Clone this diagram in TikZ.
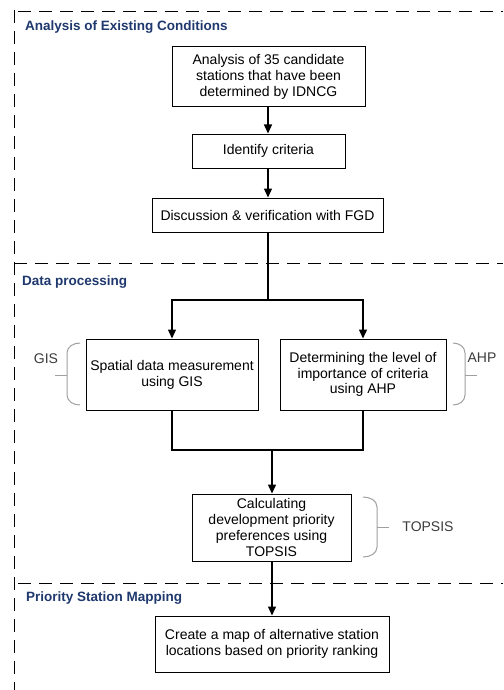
\documentclass[tikz,border=0pt]{standalone}
\usepackage{fontspec}
\setmainfont{Liberation Sans}
\usetikzlibrary{arrows.meta}
\definecolor{titleblue}{RGB}{31,56,110}
\definecolor{bracegray}{RGB}{160,160,160}
\definecolor{labelgray}{RGB}{60,60,60}
\begin{document}
\begin{tikzpicture}[x=1pt,y=-1pt,
  box/.style={draw=black,line width=1pt,align=center,inner sep=2pt,
    font=\fontsize{14}{15.8}\selectfont},
  conn/.style={line width=1.4pt},
  arr/.style={line width=1.4pt,-{Triangle[length=9pt,width=8pt]}},
  sect/.style={line width=1pt,dash pattern=on 13pt off 8pt},
  title/.style={anchor=west,text=titleblue,font=\fontsize{13.5}{15}\selectfont\bfseries,inner sep=0pt},
  brc/.style={draw=bracegray,line width=1pt},
  blabel/.style={text=labelgray,font=\fontsize{14}{16}\selectfont,inner sep=0pt}]
\useasboundingbox (0,0) rectangle (503,690);
\fill[white] (0,0) rectangle (503,690);
% section frames
\draw[sect] (18,12) -- (503,12);
\draw[sect] (14,10) -- (14,690);
\draw[sect] (14,263) -- (503,263);
\draw[sect] (18,583) -- (503,583);
% titles
\node[title] (t1) at (25,27) {Analysis of Existing Conditions};
\node[title] (t2) at (22,282) {Data processing};
\node[title] (t3) at (26,598) {Priority Station Mapping};
% boxes
\node[box,minimum width=193pt,minimum height=60pt] (b1) at (268.5,77)
  {Analysis of 35 candidate\\stations that have been\\determined by IDNCG};
\node[box,minimum width=153pt,minimum height=34pt] (b2) at (268.5,151) {Identify criteria};
\node[box,minimum width=231pt,minimum height=34pt] (b3) at (267.5,215) {Discussion \& verification with FGD};
\node[box,minimum width=172pt,minimum height=71pt] (gis) at (172,374.5)
  {Spatial data measurement\\using GIS};
\node[box,minimum width=166pt,minimum height=71pt] (ahp) at (363,374.5)
  {Determining the level of\\importance of criteria\\using AHP};
\node[box,minimum width=159pt,minimum height=67pt] (top) at (271.5,527.5)
  {Calculating\\development priority\\preferences using\\TOPSIS};
\node[box,minimum width=234pt,minimum height=56pt] (map) at (272,644)
  {Create a map of alternative station\\locations based on priority ranking};
% connectors
\coordinate (split) at (268,300);
\coordinate (join) at (272,450);
\draw[arr] (b1.south -| 268,0) -- (b2.north -| 268,0);
\draw[arr] (b2.south -| 268,0) -- (b3.north -| 268,0);
\draw[conn] (b3.south -| split) -- (split);
\draw[arr] (split) -| (gis.north);
\draw[arr] (split) -| (ahp.north);
\draw[conn] (gis.south) |- (join);
\draw[conn] (ahp.south) |- (join);
\draw[arr] (join) -- (top.north -| join);
\draw[arr] (top.south -| join) -- (map.north -| join);
% braces and labels
\draw[brc] (80,343) to[out=180,in=90] (67,353) -- (67,395) to[out=-90,in=180] (80,405);
\draw[brc] (67,375) -- (55,375);
\node[blabel] (lgis) at (46,359) {GIS};
\draw[brc] (453,343) to[out=0,in=90] (465,353) -- (465,395) to[out=-90,in=0] (453,405);
\draw[brc] (465,375) -- (477,375);
\node[blabel] (lahp) at (482,358) {AHP};
\draw[brc] (363,497) to[out=0,in=90] (377,507) -- (377,547) to[out=-90,in=0] (363,557);
\draw[brc] (377,527) -- (389,527);
\node[blabel] (ltop) at (428,527) {TOPSIS};
\end{tikzpicture}
\end{document}
